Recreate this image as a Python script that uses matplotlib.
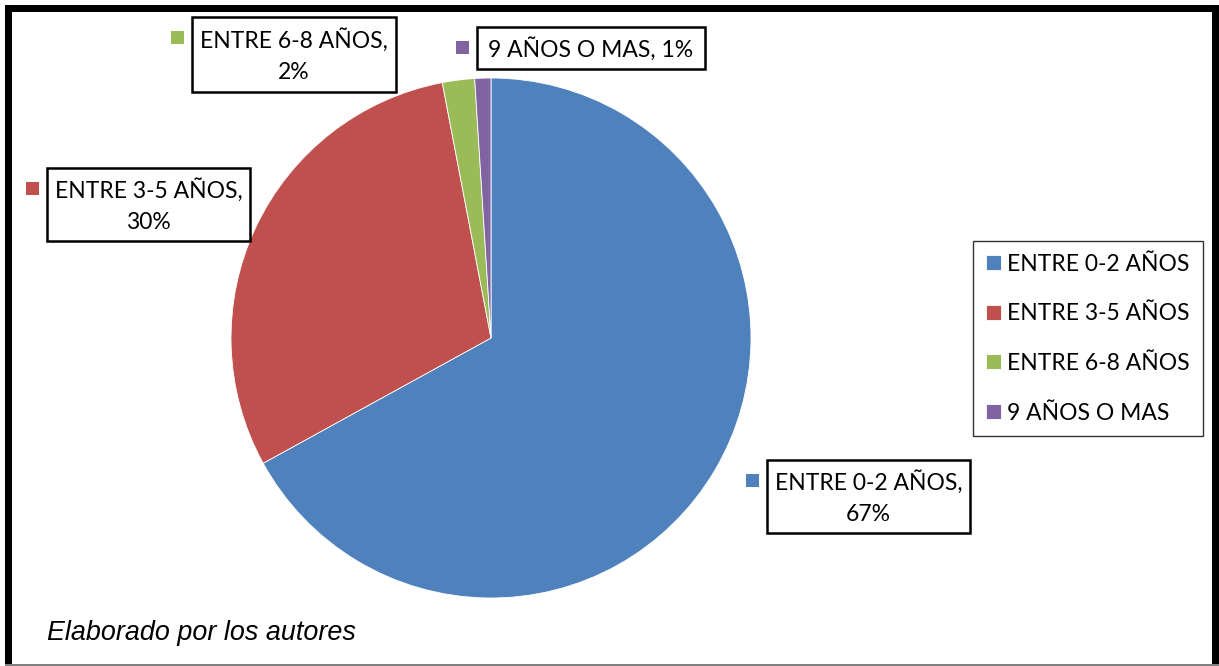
import matplotlib.pyplot as plt
from matplotlib.patches import Rectangle

# datos del grafico
categorias = ["ENTRE 0-2 AÑOS", "ENTRE 3-5 AÑOS", "ENTRE 6-8 AÑOS", "9 AÑOS O MAS"]
porcentajes = [67, 30, 2, 1]
colores = ["#4F81BD", "#C0504D", "#9BBB59", "#8064A2"]

W, H = 1219, 666
fig = plt.figure(figsize=(W / 100, H / 100), dpi=100)
fig.patch.set_facecolor("white")


def fx(px):
    return px / W


def fy(py):
    return 1 - py / H


# pie: centro (491, 338), radio 260 px
ax = fig.add_axes([fx(231), fy(598), 520 / W, 520 / H])
wedges, _ = ax.pie(porcentajes, colors=colores, startangle=90, counterclock=False,
                   radius=1.0, wedgeprops=dict(linewidth=0.6, edgecolor="white"))
ax.set_xlim(-1, 1)
ax.set_ylim(-1, 1)
ax.set_aspect("equal")
ax.axis("off")

font_lbl = "Lato"
tam = 16.5

# etiquetas de datos (caja, marcador)
cajas = [
    (767, 460, 970, 533),   # 0-2
    (47, 168, 250, 241),    # 3-5
    (192, 17, 396, 92),     # 6-8
    (477, 27, 705, 69),     # 9+
]
for i, (x0, y0, x1, y1) in enumerate(cajas):
    fig.patches.append(Rectangle((fx(x0), fy(y1)), fx(x1) - fx(x0), fy(y0) - fy(y1),
                                 transform=fig.transFigure, facecolor="white",
                                 edgecolor="black", linewidth=1.8))
    if i == 3:
        txt = f"{categorias[i]}, {porcentajes[i]}%"
    else:
        txt = f"{categorias[i]},\n{porcentajes[i]}%"
    fig.text(fx((x0 + x1) / 2), fy((y0 + y1) / 2 + 1), txt, ha="center", va="center",
             fontsize=tam, family=font_lbl, linespacing=1.55)
    # marcador cuadrado a la izquierda
    mx, my = x0 - 21, y0 + 20
    fig.patches.append(Rectangle((fx(mx), fy(my + 7)), fx(13), 13 / H,
                                 transform=fig.transFigure, facecolor=colores[i],
                                 edgecolor="none"))

# leyenda
leg = fig.legend(wedges, categorias, loc="upper left",
                 bbox_to_anchor=(fx(973), fy(241)), frameon=True, fancybox=False,
                 edgecolor="black", prop=dict(family=font_lbl, size=tam),
                 handlelength=0.65, handleheight=0.65, handletextpad=0.3,
                 labelspacing=1.25, borderpad=0.55, borderaxespad=0)
leg.get_frame().set_linewidth(1.0)

# nota al pie
fig.text(fx(47), fy(633), "Elaborado por los autores", ha="left", va="center",
         fontsize=19.4, style="italic", family="Liberation Sans")

# marco exterior
negro = dict(transform=fig.transFigure, facecolor="black", edgecolor="none")
fig.patches.append(Rectangle((fx(5), fy(666)), fx(7), fy(5) - fy(666), **negro))
fig.patches.append(Rectangle((fx(5), fy(12)), fx(1214), 7 / H, **negro))
fig.patches.append(Rectangle((fx(1212), fy(666)), fx(7), fy(5) - fy(666), **negro))
fig.patches.append(Rectangle((fx(5), 0), fx(1214), 2 / H, transform=fig.transFigure,
                             facecolor="#808080", edgecolor="none"))

fig.savefig("out.png", dpi=100)
